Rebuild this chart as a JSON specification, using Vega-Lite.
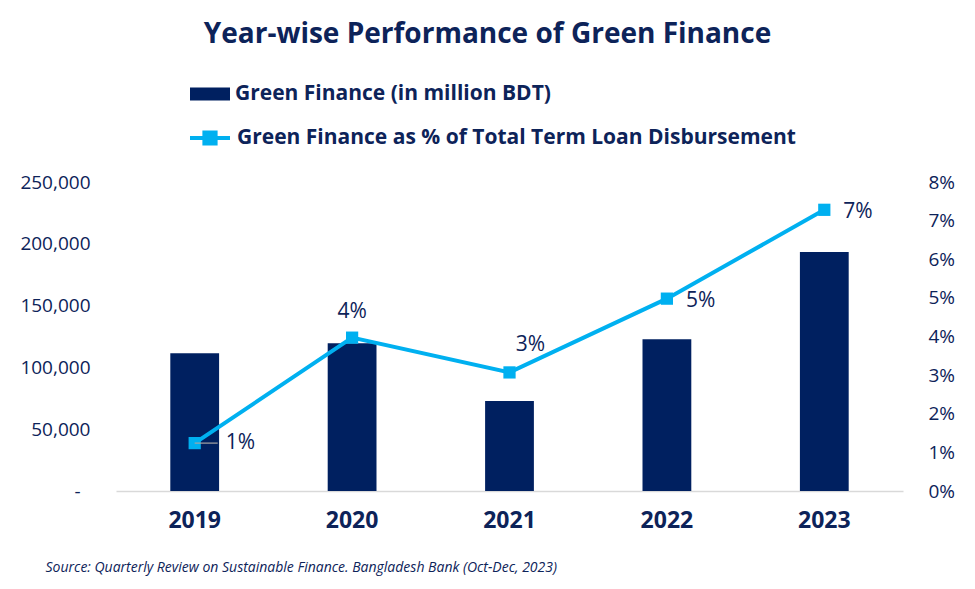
{
  "$schema": "https://vega.github.io/schema/vega-lite/v6.json",
  "width": 787,
  "height": 309,
  "autosize": {"type": "none"},
  "padding": {"left": 116, "top": 182, "right": 72, "bottom": 98},
  "background": "white",
  "config": {
    "font": "Open Sans",
    "view": {"stroke": null}
  },
  "title": {
    "text": "Year-wise Performance of Green Finance",
    "fontSize": 28,
    "fontWeight": "bold",
    "color": "#0D2359",
    "anchor": "middle",
    "baseline": "alphabetic",
    "dx": -22,
    "offset": 3
  },
  "data": {
    "values": [
      {"year": "2019", "finance": 111500, "pct": 0.0124, "label": "1%"},
      {"year": "2020", "finance": 119500, "pct": 0.0397, "label": "4%"},
      {"year": "2021", "finance": 72800, "pct": 0.0307, "label": "3%"},
      {"year": "2022", "finance": 122800, "pct": 0.0498, "label": "5%"},
      {"year": "2023", "finance": 193300, "pct": 0.0728, "label": "7%"}
    ]
  },
  "encoding": {
    "x": {
      "field": "year",
      "type": "nominal",
      "scale": {"paddingInner": 0.69, "paddingOuter": 0.345},
      "axis": {
        "title": "Source: Quarterly Review on Sustainable Finance. Bangladesh Bank (Oct-Dec, 2023)",
        "titleFont": "Open Sans",
        "titleFontStyle": "italic",
        "titleFontWeight": "normal",
        "titleFontSize": 14,
        "titleColor": "#0D2359",
        "titleAnchor": "start",
        "titleAlign": "left",
        "titleX": -71,
        "titleY": 80,
        "titleBaseline": "alphabetic",
        "labelAngle": 0,
        "labelFontSize": 23,
        "labelFontWeight": "bold",
        "labelColor": "#0D2359",
        "labelPadding": 18,
        "ticks": false,
        "domainColor": "#D9D9D9",
        "domainWidth": 1.5,
        "grid": false
      }
    }
  },
  "layer": [
    {
      "mark": {"type": "bar", "fill": "#002060"},
      "encoding": {
        "y": {
          "field": "finance",
          "type": "quantitative",
          "scale": {"domain": [0, 250000], "nice": false},
          "axis": {
            "title": null,
            "values": [0, 50000, 100000, 150000, 200000, 250000],
            "labelExpr": "datum.value == 0 ? '-' : format(datum.value, ',')",
            "labelFontSize": 19,
            "labelColor": "#0D2359",
            "labelPadding": {"condition": {"test": "datum.value == 0", "value": 36}, "value": 26},
            "ticks": false,
            "domain": false,
            "grid": false
          }
        },
        "fill": {
          "datum": "Green Finance (in million BDT)",
          "scale": {"range": ["#002060"]},
          "legend": {
            "title": null,
            "orient": "none",
            "legendX": 74,
            "legendY": -108,
            "symbolType": "M-1,-0.33H1V0.33H-1Z",
            "symbolSize": 1600,
            "symbolStrokeWidth": 0,
            "labelFontSize": 21,
            "labelFontWeight": "bold",
            "labelColor": "#0D2359",
            "labelOffset": 5,
            "labelLimit": 0
          }
        }
      }
    },
    {
      "mark": {"type": "line", "strokeWidth": 4},
      "encoding": {
        "y": {
          "field": "pct",
          "type": "quantitative",
          "scale": {"domain": [0, 0.08], "nice": false},
          "axis": {
            "orient": "right",
            "title": null,
            "values": [0, 0.01, 0.02, 0.03, 0.04, 0.05, 0.06, 0.07, 0.08],
            "format": ".0%",
            "labelFontSize": 19,
            "labelColor": "#0D2359",
            "labelPadding": 25,
            "ticks": false,
            "domain": false,
            "grid": false
          }
        },
        "stroke": {
          "datum": "Green Finance as % of Total Term Loan Disbursement",
          "scale": {"range": ["#00B0F0"]},
          "legend": {
            "title": null,
            "orient": "none",
            "legendX": 72,
            "legendY": -66,
            "symbolType": "M-1,0H1M-0.28,-0.28H0.28V0.28H-0.28Z",
            "symbolSize": 1600,
            "symbolStrokeWidth": 4,
            "symbolFillColor": "#00B0F0",
            "labelFontSize": 21,
            "labelFontWeight": "bold",
            "labelColor": "#0D2359",
            "labelOffset": 5,
            "labelLimit": 0,
            "encode": {"symbols": {"update": {"fill": {"value": "#00B0F0"}}}}
          }
        }
      }
    },
    {
      "mark": {"type": "point", "shape": "square", "filled": true, "size": 150, "color": "#00B0F0", "opacity": 1},
      "encoding": {
        "y": {"field": "pct", "type": "quantitative", "scale": {"domain": [0, 0.08], "nice": false}, "axis": null}
      }
    },
    {
      "transform": [{"filter": "datum.year == '2019'"}],
      "mark": {"type": "rule", "color": "#A6A6A6", "strokeWidth": 1.2, "xOffset": 0, "x2Offset": 23},
      "encoding": {
        "x2": {"field": "year"},
        "y": {"field": "pct", "type": "quantitative", "scale": {"domain": [0, 0.08], "nice": false}, "axis": null}
      }
    },
    {
      "transform": [{"filter": "datum.year == '2019'"}],
      "mark": {"type": "text", "align": "left", "baseline": "middle", "dx": 31, "fontSize": 21, "color": "#0D2359"},
      "encoding": {
        "y": {"field": "pct", "type": "quantitative", "scale": {"domain": [0, 0.08], "nice": false}, "axis": null},
        "text": {"field": "label"}
      }
    },
    {
      "transform": [{"filter": "datum.year == '2020'"}],
      "mark": {"type": "text", "align": "center", "baseline": "middle", "dy": -26, "fontSize": 21, "color": "#0D2359"},
      "encoding": {
        "y": {"field": "pct", "type": "quantitative", "scale": {"domain": [0, 0.08], "nice": false}, "axis": null},
        "text": {"field": "label"}
      }
    },
    {
      "transform": [{"filter": "datum.year == '2021'"}],
      "mark": {"type": "text", "align": "center", "baseline": "middle", "dx": 21, "dy": -27, "fontSize": 21, "color": "#0D2359"},
      "encoding": {
        "y": {"field": "pct", "type": "quantitative", "scale": {"domain": [0, 0.08], "nice": false}, "axis": null},
        "text": {"field": "label"}
      }
    },
    {
      "transform": [{"filter": "datum.year == '2022' || datum.year == '2023'"}],
      "mark": {"type": "text", "align": "left", "baseline": "middle", "dx": 19, "dy": 2, "fontSize": 21, "color": "#0D2359"},
      "encoding": {
        "y": {"field": "pct", "type": "quantitative", "scale": {"domain": [0, 0.08], "nice": false}, "axis": null},
        "text": {"field": "label"}
      }
    }
  ],
  "resolve": {"scale": {"y": "independent"}}
}
